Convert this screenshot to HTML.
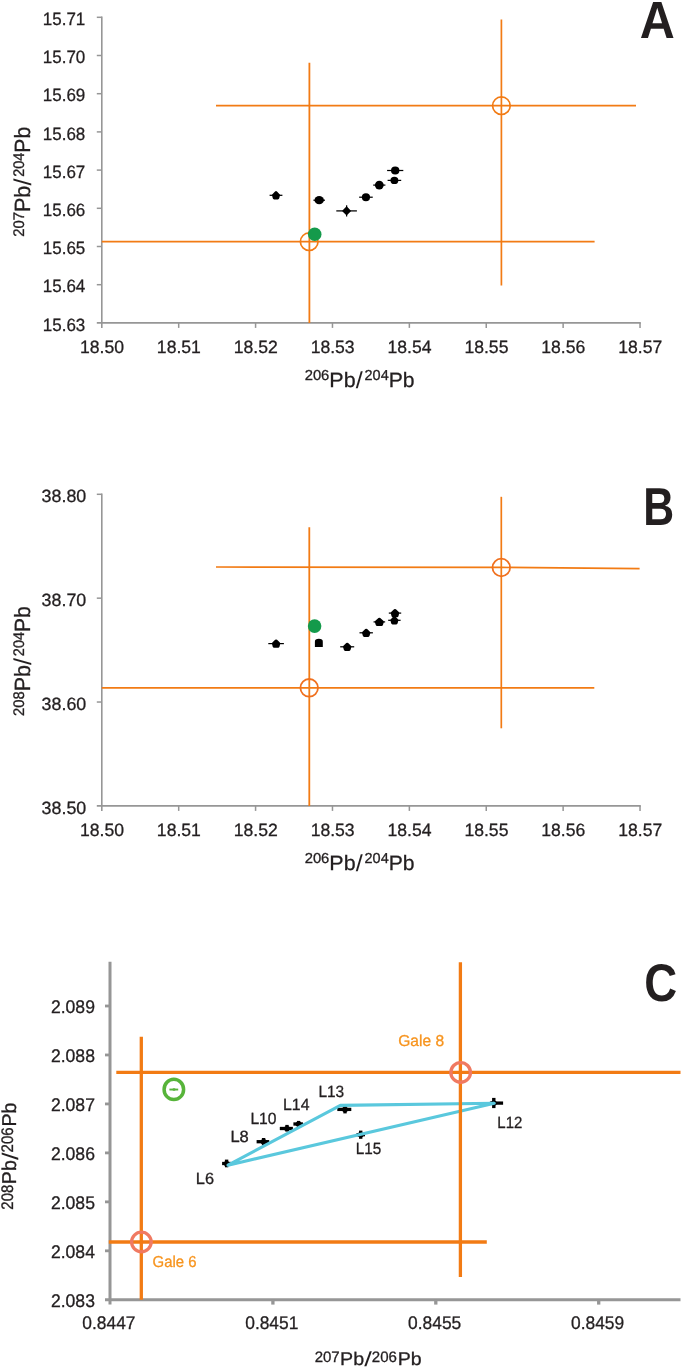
<!DOCTYPE html>
<html><head><meta charset="utf-8"><title>Pb isotope plots</title>
<style>
html,body{margin:0;padding:0;background:#fff;}
svg{display:block;will-change:transform;text-rendering:geometricPrecision;font-family:"Liberation Sans",sans-serif;font-kerning:none;}
</style></head>
<body>
<svg width="685" height="1368" viewBox="0 0 685 1368">
<rect width="685" height="1368" fill="#ffffff"/>
<line x1="101.8" y1="16.5" x2="101.8" y2="327.9" stroke="#969696" stroke-width="1.6" stroke-linecap="butt"/>
<line x1="96.8" y1="322.9" x2="640.8299999999999" y2="322.9" stroke="#969696" stroke-width="1.6" stroke-linecap="butt"/>
<line x1="96.8" y1="17.3" x2="101.8" y2="17.3" stroke="#969696" stroke-width="1.5" stroke-linecap="butt"/>
<text x="42.81" y="25.0" font-size="17.8" fill="#231F20" stroke="#231F20" stroke-width="0.3" textLength="42.52" lengthAdjust="spacingAndGlyphs">15.71</text>
<line x1="96.8" y1="55.5" x2="101.8" y2="55.5" stroke="#969696" stroke-width="1.5" stroke-linecap="butt"/>
<text x="42.81" y="63.2" font-size="17.8" fill="#231F20" stroke="#231F20" stroke-width="0.3" textLength="42.52" lengthAdjust="spacingAndGlyphs">15.70</text>
<line x1="96.8" y1="93.69999999999999" x2="101.8" y2="93.69999999999999" stroke="#969696" stroke-width="1.5" stroke-linecap="butt"/>
<text x="42.81" y="101.4" font-size="17.8" fill="#231F20" stroke="#231F20" stroke-width="0.3" textLength="42.52" lengthAdjust="spacingAndGlyphs">15.69</text>
<line x1="96.8" y1="131.9" x2="101.8" y2="131.9" stroke="#969696" stroke-width="1.5" stroke-linecap="butt"/>
<text x="42.81" y="139.6" font-size="17.8" fill="#231F20" stroke="#231F20" stroke-width="0.3" textLength="42.52" lengthAdjust="spacingAndGlyphs">15.68</text>
<line x1="96.8" y1="170.1" x2="101.8" y2="170.1" stroke="#969696" stroke-width="1.5" stroke-linecap="butt"/>
<text x="42.81" y="177.8" font-size="17.8" fill="#231F20" stroke="#231F20" stroke-width="0.3" textLength="42.52" lengthAdjust="spacingAndGlyphs">15.67</text>
<line x1="96.8" y1="208.29999999999998" x2="101.8" y2="208.29999999999998" stroke="#969696" stroke-width="1.5" stroke-linecap="butt"/>
<text x="42.81" y="216.0" font-size="17.8" fill="#231F20" stroke="#231F20" stroke-width="0.3" textLength="42.52" lengthAdjust="spacingAndGlyphs">15.66</text>
<line x1="96.8" y1="246.5" x2="101.8" y2="246.5" stroke="#969696" stroke-width="1.5" stroke-linecap="butt"/>
<text x="42.81" y="254.2" font-size="17.8" fill="#231F20" stroke="#231F20" stroke-width="0.3" textLength="42.52" lengthAdjust="spacingAndGlyphs">15.65</text>
<line x1="96.8" y1="284.7" x2="101.8" y2="284.7" stroke="#969696" stroke-width="1.5" stroke-linecap="butt"/>
<text x="42.81" y="292.4" font-size="17.8" fill="#231F20" stroke="#231F20" stroke-width="0.3" textLength="42.52" lengthAdjust="spacingAndGlyphs">15.64</text>
<text x="42.81" y="330.6" font-size="17.8" fill="#231F20" stroke="#231F20" stroke-width="0.3" textLength="42.52" lengthAdjust="spacingAndGlyphs">15.63</text>
<text x="79.96" y="352.5" font-size="17.8" fill="#231F20" stroke="#231F20" stroke-width="0.3" textLength="44.03" lengthAdjust="spacingAndGlyphs">18.50</text>
<line x1="178.69" y1="322.9" x2="178.69" y2="327.9" stroke="#969696" stroke-width="1.5" stroke-linecap="butt"/>
<text x="156.85" y="352.5" font-size="17.8" fill="#231F20" stroke="#231F20" stroke-width="0.3" textLength="44.03" lengthAdjust="spacingAndGlyphs">18.51</text>
<line x1="255.57999999999998" y1="322.9" x2="255.57999999999998" y2="327.9" stroke="#969696" stroke-width="1.5" stroke-linecap="butt"/>
<text x="233.74" y="352.5" font-size="17.8" fill="#231F20" stroke="#231F20" stroke-width="0.3" textLength="44.03" lengthAdjust="spacingAndGlyphs">18.52</text>
<line x1="332.47" y1="322.9" x2="332.47" y2="327.9" stroke="#969696" stroke-width="1.5" stroke-linecap="butt"/>
<text x="310.63" y="352.5" font-size="17.8" fill="#231F20" stroke="#231F20" stroke-width="0.3" textLength="44.03" lengthAdjust="spacingAndGlyphs">18.53</text>
<line x1="409.36" y1="322.9" x2="409.36" y2="327.9" stroke="#969696" stroke-width="1.5" stroke-linecap="butt"/>
<text x="387.52" y="352.5" font-size="17.8" fill="#231F20" stroke="#231F20" stroke-width="0.3" textLength="44.03" lengthAdjust="spacingAndGlyphs">18.54</text>
<line x1="486.25" y1="322.9" x2="486.25" y2="327.9" stroke="#969696" stroke-width="1.5" stroke-linecap="butt"/>
<text x="464.41" y="352.5" font-size="17.8" fill="#231F20" stroke="#231F20" stroke-width="0.3" textLength="44.03" lengthAdjust="spacingAndGlyphs">18.55</text>
<line x1="563.14" y1="322.9" x2="563.14" y2="327.9" stroke="#969696" stroke-width="1.5" stroke-linecap="butt"/>
<text x="541.3" y="352.5" font-size="17.8" fill="#231F20" stroke="#231F20" stroke-width="0.3" textLength="44.03" lengthAdjust="spacingAndGlyphs">18.56</text>
<line x1="640.03" y1="322.9" x2="640.03" y2="327.9" stroke="#969696" stroke-width="1.5" stroke-linecap="butt"/>
<text x="618.19" y="352.5" font-size="17.8" fill="#231F20" stroke="#231F20" stroke-width="0.3" textLength="44.03" lengthAdjust="spacingAndGlyphs">18.57</text>
<line x1="101.8" y1="241.7" x2="594.6" y2="241.7" stroke="#F27B14" stroke-width="1.8" stroke-linecap="butt"/>
<line x1="309.4" y1="62.8" x2="309.4" y2="322.9" stroke="#F27B14" stroke-width="1.8" stroke-linecap="butt"/>
<circle cx="309.2" cy="241.7" r="8.8" fill="none" stroke="#F27B14" stroke-width="1.7"/>
<line x1="216" y1="105.7" x2="636" y2="105.7" stroke="#F27B14" stroke-width="1.7" stroke-linecap="butt"/>
<line x1="501.4" y1="19.4" x2="501.4" y2="285.4" stroke="#F27B14" stroke-width="1.7" stroke-linecap="butt"/>
<circle cx="501.4" cy="105.7" r="8.8" fill="none" stroke="#F27B14" stroke-width="1.7"/>
<line x1="269.6" y1="195.3" x2="282.4" y2="195.3" stroke="#000" stroke-width="1.25" stroke-linecap="butt"/>
<polygon points="276.00,192.60 278.60,195.17 277.87,198.00 274.13,198.00 273.40,195.17" fill="#000" stroke="#000" stroke-width="2.8" stroke-linejoin="round"/>
<line x1="313.4" y1="200.2" x2="325.0" y2="200.2" stroke="#000" stroke-width="1.25" stroke-linecap="butt"/>
<ellipse cx="319.2" cy="200.2" rx="4.7" ry="4.1" fill="#000"/>
<line x1="336.3" y1="210.9" x2="356.9" y2="210.9" stroke="#000" stroke-width="1.25" stroke-linecap="butt"/>
<line x1="346.6" y1="205.3" x2="346.6" y2="216.5" stroke="#000" stroke-width="1.25" stroke-linecap="butt"/>
<polygon points="343.00,210.90 346.60,207.30 350.20,210.90 346.60,214.50" fill="#000" stroke="#000" stroke-width="1.4" stroke-linejoin="round"/>
<line x1="359.15" y1="197.2" x2="372.75" y2="197.2" stroke="#000" stroke-width="1.25" stroke-linecap="butt"/>
<ellipse cx="365.95" cy="197.2" rx="4.1" ry="3.95" fill="#000"/>
<line x1="373.2" y1="185.1" x2="385.4" y2="185.1" stroke="#000" stroke-width="1.25" stroke-linecap="butt"/>
<ellipse cx="379.3" cy="185.1" rx="4.4" ry="4.3" fill="#000"/>
<line x1="387.6" y1="180.4" x2="401.2" y2="180.4" stroke="#000" stroke-width="1.25" stroke-linecap="butt"/>
<ellipse cx="394.4" cy="180.4" rx="3.95" ry="3.7" fill="#000"/>
<line x1="387.1" y1="170.5" x2="403.3" y2="170.5" stroke="#000" stroke-width="1.25" stroke-linecap="butt"/>
<ellipse cx="395.2" cy="170.5" rx="4.2" ry="4.0" fill="#000"/>
<circle cx="314.7" cy="234.2" r="6.8" fill="#149A4B"/>
<text x="304.66" y="380.0" font-size="14.5" fill="#231F20" stroke="#231F20" stroke-width="0.3" textLength="24.69" lengthAdjust="spacingAndGlyphs">206</text>
<text x="329.34" y="386.7" font-size="20.8" fill="#231F20" stroke="#231F20" stroke-width="0.3" textLength="26.26" lengthAdjust="spacingAndGlyphs">Pb</text>
<text x="355.8" y="387.7" font-size="23.0" fill="#231F20" textLength="7.0" lengthAdjust="spacingAndGlyphs">/</text>
<text x="364.57" y="380.0" font-size="14.5" fill="#231F20" stroke="#231F20" stroke-width="0.3" textLength="24.15" lengthAdjust="spacingAndGlyphs">204</text>
<text x="388.67" y="386.7" font-size="20.8" fill="#231F20" stroke="#231F20" stroke-width="0.3" textLength="25.82" lengthAdjust="spacingAndGlyphs">Pb</text>
<g transform="translate(30.3,235.9) rotate(-90) scale(1,1.06)">
<text x="-0.75" y="-6.4" font-size="14.5" fill="#231F20" stroke="#231F20" stroke-width="0.3" textLength="24.79" lengthAdjust="spacingAndGlyphs">207</text>
<text x="23.94" y="0" font-size="20.8" fill="#231F20" stroke="#231F20" stroke-width="0.3" textLength="26.26" lengthAdjust="spacingAndGlyphs">Pb</text>
<text x="50.4" y="1.0" font-size="23.0" fill="#231F20" textLength="7.0" lengthAdjust="spacingAndGlyphs">/</text>
<text x="59.17" y="-6.4" font-size="14.5" fill="#231F20" stroke="#231F20" stroke-width="0.3" textLength="24.15" lengthAdjust="spacingAndGlyphs">204</text>
<text x="83.27" y="0" font-size="20.8" fill="#231F20" stroke="#231F20" stroke-width="0.3" textLength="25.82" lengthAdjust="spacingAndGlyphs">Pb</text>
</g>
<text transform="translate(657.2,37.5) scale(0.93,1)" font-size="52.2" font-weight="bold" text-anchor="middle" fill="#231F20">A</text>
<line x1="101.8" y1="493.5" x2="101.8" y2="810.9" stroke="#969696" stroke-width="1.6" stroke-linecap="butt"/>
<line x1="96.8" y1="805.9" x2="640.8299999999999" y2="805.9" stroke="#969696" stroke-width="1.6" stroke-linecap="butt"/>
<line x1="96.8" y1="494.3" x2="101.8" y2="494.3" stroke="#969696" stroke-width="1.5" stroke-linecap="butt"/>
<text x="41.62" y="502.0" font-size="17.8" fill="#231F20" stroke="#231F20" stroke-width="0.3" textLength="44.68" lengthAdjust="spacingAndGlyphs">38.80</text>
<line x1="96.8" y1="598.1666666666666" x2="101.8" y2="598.1666666666666" stroke="#969696" stroke-width="1.5" stroke-linecap="butt"/>
<text x="41.62" y="605.87" font-size="17.8" fill="#231F20" stroke="#231F20" stroke-width="0.3" textLength="44.68" lengthAdjust="spacingAndGlyphs">38.70</text>
<line x1="96.8" y1="702.0333333333333" x2="101.8" y2="702.0333333333333" stroke="#969696" stroke-width="1.5" stroke-linecap="butt"/>
<text x="41.62" y="709.73" font-size="17.8" fill="#231F20" stroke="#231F20" stroke-width="0.3" textLength="44.68" lengthAdjust="spacingAndGlyphs">38.60</text>
<text x="41.62" y="813.6" font-size="17.8" fill="#231F20" stroke="#231F20" stroke-width="0.3" textLength="44.68" lengthAdjust="spacingAndGlyphs">38.50</text>
<text x="79.96" y="835.5" font-size="17.8" fill="#231F20" stroke="#231F20" stroke-width="0.3" textLength="44.03" lengthAdjust="spacingAndGlyphs">18.50</text>
<line x1="178.69" y1="805.9" x2="178.69" y2="810.9" stroke="#969696" stroke-width="1.5" stroke-linecap="butt"/>
<text x="156.85" y="835.5" font-size="17.8" fill="#231F20" stroke="#231F20" stroke-width="0.3" textLength="44.03" lengthAdjust="spacingAndGlyphs">18.51</text>
<line x1="255.57999999999998" y1="805.9" x2="255.57999999999998" y2="810.9" stroke="#969696" stroke-width="1.5" stroke-linecap="butt"/>
<text x="233.74" y="835.5" font-size="17.8" fill="#231F20" stroke="#231F20" stroke-width="0.3" textLength="44.03" lengthAdjust="spacingAndGlyphs">18.52</text>
<line x1="332.47" y1="805.9" x2="332.47" y2="810.9" stroke="#969696" stroke-width="1.5" stroke-linecap="butt"/>
<text x="310.63" y="835.5" font-size="17.8" fill="#231F20" stroke="#231F20" stroke-width="0.3" textLength="44.03" lengthAdjust="spacingAndGlyphs">18.53</text>
<line x1="409.36" y1="805.9" x2="409.36" y2="810.9" stroke="#969696" stroke-width="1.5" stroke-linecap="butt"/>
<text x="387.52" y="835.5" font-size="17.8" fill="#231F20" stroke="#231F20" stroke-width="0.3" textLength="44.03" lengthAdjust="spacingAndGlyphs">18.54</text>
<line x1="486.25" y1="805.9" x2="486.25" y2="810.9" stroke="#969696" stroke-width="1.5" stroke-linecap="butt"/>
<text x="464.41" y="835.5" font-size="17.8" fill="#231F20" stroke="#231F20" stroke-width="0.3" textLength="44.03" lengthAdjust="spacingAndGlyphs">18.55</text>
<line x1="563.14" y1="805.9" x2="563.14" y2="810.9" stroke="#969696" stroke-width="1.5" stroke-linecap="butt"/>
<text x="541.3" y="835.5" font-size="17.8" fill="#231F20" stroke="#231F20" stroke-width="0.3" textLength="44.03" lengthAdjust="spacingAndGlyphs">18.56</text>
<line x1="640.03" y1="805.9" x2="640.03" y2="810.9" stroke="#969696" stroke-width="1.5" stroke-linecap="butt"/>
<text x="618.19" y="835.5" font-size="17.8" fill="#231F20" stroke="#231F20" stroke-width="0.3" textLength="44.03" lengthAdjust="spacingAndGlyphs">18.57</text>
<line x1="101.8" y1="687.8" x2="594.3" y2="687.8" stroke="#F27B14" stroke-width="1.8" stroke-linecap="butt"/>
<line x1="309.3" y1="527.3" x2="309.3" y2="805.9" stroke="#F27B14" stroke-width="1.8" stroke-linecap="butt"/>
<circle cx="309.2" cy="687.8" r="8.8" fill="none" stroke="#F0701E" stroke-width="1.8"/>
<polyline points="216,567 501.4,567.4 639.6,568.7" fill="none" stroke="#F27B14" stroke-width="1.7"/>
<line x1="501.3" y1="496.8" x2="501.3" y2="728.3" stroke="#F27B14" stroke-width="1.7" stroke-linecap="butt"/>
<circle cx="501.3" cy="567.5" r="8.8" fill="none" stroke="#F0701E" stroke-width="1.8"/>
<line x1="268.3" y1="643.6" x2="283.9" y2="643.6" stroke="#000" stroke-width="1.25" stroke-linecap="butt"/>
<polygon points="276.10,640.90 278.90,643.47 278.12,646.30 274.08,646.30 273.30,643.47" fill="#000" stroke="#000" stroke-width="2.8" stroke-linejoin="round"/>
<path d="M314.90000000000003,647.0 L314.90000000000003,641.67 Q314.90000000000003,638.8 318.85,638.8 Q322.8,638.8 322.8,641.67 L322.8,647.0 Z" fill="#000"/>
<line x1="340.2" y1="646.8" x2="354.2" y2="646.8" stroke="#000" stroke-width="1.25" stroke-linecap="butt"/>
<polygon points="347.20,644.10 350.00,646.66 349.22,649.50 345.18,649.50 344.40,646.66" fill="#000" stroke="#000" stroke-width="2.8" stroke-linejoin="round"/>
<line x1="359.5" y1="632.8" x2="372.9" y2="632.8" stroke="#000" stroke-width="1.25" stroke-linecap="butt"/>
<polygon points="366.20,630.10 369.00,632.66 368.22,635.50 364.18,635.50 363.40,632.66" fill="#000" stroke="#000" stroke-width="2.8" stroke-linejoin="round"/>
<line x1="373.55" y1="621.9" x2="385.15" y2="621.9" stroke="#000" stroke-width="1.25" stroke-linecap="butt"/>
<polygon points="379.35,619.20 382.45,621.76 381.58,624.60 377.12,624.60 376.25,621.76" fill="#000" stroke="#000" stroke-width="2.8" stroke-linejoin="round"/>
<line x1="388.2" y1="620.3" x2="400.6" y2="620.3" stroke="#000" stroke-width="1.25" stroke-linecap="butt"/>
<polygon points="394.40,617.60 397.00,620.16 396.27,623.00 392.53,623.00 391.80,620.16" fill="#000" stroke="#000" stroke-width="2.8" stroke-linejoin="round"/>
<line x1="388.8" y1="613.1" x2="401.2" y2="613.1" stroke="#000" stroke-width="1.25" stroke-linecap="butt"/>
<polygon points="395.00,610.40 397.90,612.97 397.09,615.80 392.91,615.80 392.10,612.97" fill="#000" stroke="#000" stroke-width="2.8" stroke-linejoin="round"/>
<circle cx="314.6" cy="626.1" r="6.8" fill="#149A4B"/>
<text x="304.66" y="863.0" font-size="14.5" fill="#231F20" stroke="#231F20" stroke-width="0.3" textLength="24.69" lengthAdjust="spacingAndGlyphs">206</text>
<text x="329.34" y="869.7" font-size="20.8" fill="#231F20" stroke="#231F20" stroke-width="0.3" textLength="26.26" lengthAdjust="spacingAndGlyphs">Pb</text>
<text x="355.8" y="870.7" font-size="23.0" fill="#231F20" textLength="7.0" lengthAdjust="spacingAndGlyphs">/</text>
<text x="364.57" y="863.0" font-size="14.5" fill="#231F20" stroke="#231F20" stroke-width="0.3" textLength="24.15" lengthAdjust="spacingAndGlyphs">204</text>
<text x="388.67" y="869.7" font-size="20.8" fill="#231F20" stroke="#231F20" stroke-width="0.3" textLength="25.82" lengthAdjust="spacingAndGlyphs">Pb</text>
<g transform="translate(30.3,715.3) rotate(-90) scale(1,1.06)">
<text x="-0.74" y="-6.4" font-size="14.5" fill="#231F20" stroke="#231F20" stroke-width="0.3" textLength="24.69" lengthAdjust="spacingAndGlyphs">208</text>
<text x="23.94" y="0" font-size="20.8" fill="#231F20" stroke="#231F20" stroke-width="0.3" textLength="26.26" lengthAdjust="spacingAndGlyphs">Pb</text>
<text x="50.4" y="1.0" font-size="23.0" fill="#231F20" textLength="7.0" lengthAdjust="spacingAndGlyphs">/</text>
<text x="59.17" y="-6.4" font-size="14.5" fill="#231F20" stroke="#231F20" stroke-width="0.3" textLength="24.15" lengthAdjust="spacingAndGlyphs">204</text>
<text x="83.27" y="0" font-size="20.8" fill="#231F20" stroke="#231F20" stroke-width="0.3" textLength="25.82" lengthAdjust="spacingAndGlyphs">Pb</text>
</g>
<text transform="translate(658.6,525.1) scale(0.80,1)" font-size="53.5" font-weight="bold" text-anchor="middle" fill="#231F20">B</text>
<line x1="110.0" y1="961.7" x2="110.0" y2="1304.6" stroke="#969696" stroke-width="3.0" stroke-linecap="butt"/>
<line x1="105.0" y1="1299.8" x2="680.5" y2="1299.8" stroke="#969696" stroke-width="3.0" stroke-linecap="butt"/>
<line x1="105.0" y1="1006.0" x2="110.0" y2="1006.0" stroke="#969696" stroke-width="2.8" stroke-linecap="butt"/>
<text x="50.92" y="1012.8" font-size="18.3" fill="#231F20" stroke="#231F20" stroke-width="0.3" textLength="44.02" lengthAdjust="spacingAndGlyphs">2.089</text>
<line x1="105.0" y1="1054.9666666666667" x2="110.0" y2="1054.9666666666667" stroke="#969696" stroke-width="2.8" stroke-linecap="butt"/>
<text x="50.92" y="1061.77" font-size="18.3" fill="#231F20" stroke="#231F20" stroke-width="0.3" textLength="44.02" lengthAdjust="spacingAndGlyphs">2.088</text>
<line x1="105.0" y1="1103.9333333333334" x2="110.0" y2="1103.9333333333334" stroke="#969696" stroke-width="2.8" stroke-linecap="butt"/>
<text x="50.92" y="1110.73" font-size="18.3" fill="#231F20" stroke="#231F20" stroke-width="0.3" textLength="44.02" lengthAdjust="spacingAndGlyphs">2.087</text>
<line x1="105.0" y1="1152.9" x2="110.0" y2="1152.9" stroke="#969696" stroke-width="2.8" stroke-linecap="butt"/>
<text x="50.92" y="1159.7" font-size="18.3" fill="#231F20" stroke="#231F20" stroke-width="0.3" textLength="44.02" lengthAdjust="spacingAndGlyphs">2.086</text>
<line x1="105.0" y1="1201.8666666666666" x2="110.0" y2="1201.8666666666666" stroke="#969696" stroke-width="2.8" stroke-linecap="butt"/>
<text x="50.92" y="1208.67" font-size="18.3" fill="#231F20" stroke="#231F20" stroke-width="0.3" textLength="44.02" lengthAdjust="spacingAndGlyphs">2.085</text>
<line x1="105.0" y1="1250.8333333333333" x2="110.0" y2="1250.8333333333333" stroke="#969696" stroke-width="2.8" stroke-linecap="butt"/>
<text x="50.92" y="1257.63" font-size="18.3" fill="#231F20" stroke="#231F20" stroke-width="0.3" textLength="44.02" lengthAdjust="spacingAndGlyphs">2.084</text>
<text x="50.92" y="1306.6" font-size="18.3" fill="#231F20" stroke="#231F20" stroke-width="0.3" textLength="44.02" lengthAdjust="spacingAndGlyphs">2.083</text>
<text x="82.32" y="1328.6" font-size="18.3" fill="#231F20" stroke="#231F20" stroke-width="0.3" textLength="53.15" lengthAdjust="spacingAndGlyphs">0.8447</text>
<line x1="272.9" y1="1299.8" x2="272.9" y2="1304.6" stroke="#969696" stroke-width="3.3" stroke-linecap="butt"/>
<text x="245.22" y="1328.6" font-size="18.3" fill="#231F20" stroke="#231F20" stroke-width="0.3" textLength="53.15" lengthAdjust="spacingAndGlyphs">0.8451</text>
<line x1="435.8" y1="1299.8" x2="435.8" y2="1304.6" stroke="#969696" stroke-width="3.3" stroke-linecap="butt"/>
<text x="408.12" y="1328.6" font-size="18.3" fill="#231F20" stroke="#231F20" stroke-width="0.3" textLength="53.15" lengthAdjust="spacingAndGlyphs">0.8455</text>
<line x1="598.7" y1="1299.8" x2="598.7" y2="1304.6" stroke="#969696" stroke-width="3.3" stroke-linecap="butt"/>
<text x="571.02" y="1328.6" font-size="18.3" fill="#231F20" stroke="#231F20" stroke-width="0.3" textLength="53.15" lengthAdjust="spacingAndGlyphs">0.8459</text>
<line x1="222.1" y1="1163.5" x2="230.9" y2="1163.5" stroke="#000" stroke-width="3.3" stroke-linecap="butt"/>
<line x1="226.6" y1="1159.6" x2="226.6" y2="1167.3" stroke="#000" stroke-width="3.4" stroke-linecap="butt"/>
<ellipse cx="226.6" cy="1163.5" rx="3.0" ry="2.6" fill="#000"/>
<line x1="256.6" y1="1141.7" x2="269.2" y2="1141.7" stroke="#000" stroke-width="3.3" stroke-linecap="butt"/>
<line x1="263.6" y1="1138.0" x2="263.6" y2="1145.2" stroke="#000" stroke-width="3.4" stroke-linecap="butt"/>
<ellipse cx="263.6" cy="1141.7" rx="3.0" ry="2.6" fill="#000"/>
<line x1="279.8" y1="1128.5" x2="292.9" y2="1128.5" stroke="#000" stroke-width="3.3" stroke-linecap="butt"/>
<line x1="287.0" y1="1124.9" x2="287.0" y2="1131.6" stroke="#000" stroke-width="3.4" stroke-linecap="butt"/>
<ellipse cx="287.0" cy="1128.5" rx="3.0" ry="2.6" fill="#000"/>
<line x1="293.4" y1="1124.0" x2="303.0" y2="1124.0" stroke="#000" stroke-width="3.3" stroke-linecap="butt"/>
<line x1="298.6" y1="1120.9" x2="298.6" y2="1128.0" stroke="#000" stroke-width="3.4" stroke-linecap="butt"/>
<ellipse cx="298.6" cy="1124.0" rx="3.0" ry="2.6" fill="#000"/>
<line x1="337.3" y1="1109.4" x2="351.3" y2="1109.4" stroke="#000" stroke-width="3.3" stroke-linecap="butt"/>
<line x1="345.0" y1="1105.5" x2="345.0" y2="1113.4" stroke="#000" stroke-width="3.4" stroke-linecap="butt"/>
<ellipse cx="345.0" cy="1109.4" rx="3.0" ry="2.6" fill="#000"/>
<line x1="356.5" y1="1134.7" x2="365.0" y2="1134.7" stroke="#000" stroke-width="3.3" stroke-linecap="butt"/>
<line x1="360.7" y1="1130.6" x2="360.7" y2="1138.8" stroke="#000" stroke-width="3.4" stroke-linecap="butt"/>
<ellipse cx="360.7" cy="1134.7" rx="3.0" ry="2.6" fill="#000"/>
<line x1="489.9" y1="1103.1" x2="503.1" y2="1103.1" stroke="#000" stroke-width="3.3" stroke-linecap="butt"/>
<line x1="493.8" y1="1097.9" x2="493.8" y2="1108.1" stroke="#000" stroke-width="3.4" stroke-linecap="butt"/>
<ellipse cx="493.8" cy="1103.1" rx="3.0" ry="2.6" fill="#000"/>
<polygon points="228.0,1165.2 340.4,1105.4 494.3,1103.3" fill="none" stroke="#5AC8DD" stroke-width="3.1" stroke-linejoin="round"/>
<line x1="116.3" y1="1072.4" x2="680.5" y2="1072.4" stroke="#F27B14" stroke-width="3.3" stroke-linecap="butt"/>
<line x1="460.4" y1="962.3" x2="460.4" y2="1277" stroke="#F27B14" stroke-width="3.3" stroke-linecap="butt"/>
<line x1="108.8" y1="1242.0" x2="486.8" y2="1242.0" stroke="#F27B14" stroke-width="3.3" stroke-linecap="butt"/>
<line x1="141.3" y1="1036.8" x2="141.3" y2="1299.8" stroke="#F27B14" stroke-width="3.3" stroke-linecap="butt"/>
<circle cx="460.65" cy="1072.45" r="9.8" fill="none" stroke="#F07A62" stroke-width="3.3"/>
<circle cx="141.4" cy="1242.0" r="9.8" fill="none" stroke="#F07A62" stroke-width="3.3"/>
<text x="398.22" y="1045.6" font-size="15.8" fill="#F7941E" stroke="#F7941E" stroke-width="0.3" textLength="45.86" lengthAdjust="spacingAndGlyphs">Gale 8</text>
<text x="152.55" y="1267.1" font-size="15.8" fill="#F7941E" stroke="#F7941E" stroke-width="0.3" textLength="44.01" lengthAdjust="spacingAndGlyphs">Gale 6</text>
<ellipse cx="173.85" cy="1089.4" rx="9.75" ry="10.2" fill="none" stroke="#57B43A" stroke-width="3.5"/>
<line x1="169.4" y1="1089.55" x2="178.2" y2="1089.55" stroke="#57B43A" stroke-width="1.9" stroke-linecap="butt"/>
<ellipse cx="174.0" cy="1089.5" rx="1.6" ry="1.3" fill="#57B43A"/>
<text x="195.85" y="1183.7" font-size="16.3" fill="#231F20" stroke="#231F20" stroke-width="0.3" textLength="18.27" lengthAdjust="spacingAndGlyphs">L6</text>
<text x="230.45" y="1142.0" font-size="16.3" fill="#231F20" stroke="#231F20" stroke-width="0.3" textLength="18.37" lengthAdjust="spacingAndGlyphs">L8</text>
<text x="250.42" y="1124.3" font-size="16.3" fill="#231F20" stroke="#231F20" stroke-width="0.3" textLength="26.09" lengthAdjust="spacingAndGlyphs">L10</text>
<text x="283.0" y="1110.4" font-size="16.3" fill="#231F20" stroke="#231F20" stroke-width="0.3" textLength="26.47" lengthAdjust="spacingAndGlyphs">L14</text>
<text x="318.43" y="1096.5" font-size="16.3" fill="#231F20" stroke="#231F20" stroke-width="0.3" textLength="25.74" lengthAdjust="spacingAndGlyphs">L13</text>
<text x="497.37" y="1128.0" font-size="16.3" fill="#231F20" stroke="#231F20" stroke-width="0.3" textLength="24.98" lengthAdjust="spacingAndGlyphs">L12</text>
<text x="355.75" y="1153.5" font-size="16.3" fill="#231F20" stroke="#231F20" stroke-width="0.3" textLength="25.5" lengthAdjust="spacingAndGlyphs">L15</text>
<text x="314.65" y="1362.0" font-size="15.2" fill="#231F20" stroke="#231F20" stroke-width="0.3" textLength="25.01" lengthAdjust="spacingAndGlyphs">207</text>
<text x="340.09" y="1365.0" font-size="18.2" fill="#231F20" stroke="#231F20" stroke-width="0.3" textLength="24.04" lengthAdjust="spacingAndGlyphs">Pb</text>
<text x="364.2" y="1366.2" font-size="20.5" fill="#231F20" textLength="7.6" lengthAdjust="spacingAndGlyphs">/</text>
<text x="371.84" y="1362.0" font-size="15.2" fill="#231F20" stroke="#231F20" stroke-width="0.3" textLength="25.12" lengthAdjust="spacingAndGlyphs">206</text>
<text x="397.7" y="1365.0" font-size="18.2" fill="#231F20" stroke="#231F20" stroke-width="0.3" textLength="23.93" lengthAdjust="spacingAndGlyphs">Pb</text>
<g transform="translate(16.2,1208.9) rotate(-90) scale(1,1.1)">
<text x="-0.75" y="-3.0" font-size="15.2" fill="#231F20" stroke="#231F20" stroke-width="0.3" textLength="24.9" lengthAdjust="spacingAndGlyphs">208</text>
<text x="24.69" y="0" font-size="18.2" fill="#231F20" stroke="#231F20" stroke-width="0.3" textLength="24.04" lengthAdjust="spacingAndGlyphs">Pb</text>
<text x="48.8" y="1.2" font-size="20.5" fill="#231F20" textLength="7.6" lengthAdjust="spacingAndGlyphs">/</text>
<text x="56.44" y="-3.0" font-size="15.2" fill="#231F20" stroke="#231F20" stroke-width="0.3" textLength="25.12" lengthAdjust="spacingAndGlyphs">206</text>
<text x="82.3" y="0" font-size="18.2" fill="#231F20" stroke="#231F20" stroke-width="0.3" textLength="23.93" lengthAdjust="spacingAndGlyphs">Pb</text>
</g>
<text transform="translate(660.8,1001.4) scale(0.86,1)" font-size="53" font-weight="bold" text-anchor="middle" fill="#231F20">C</text>
</svg>
</body></html>
